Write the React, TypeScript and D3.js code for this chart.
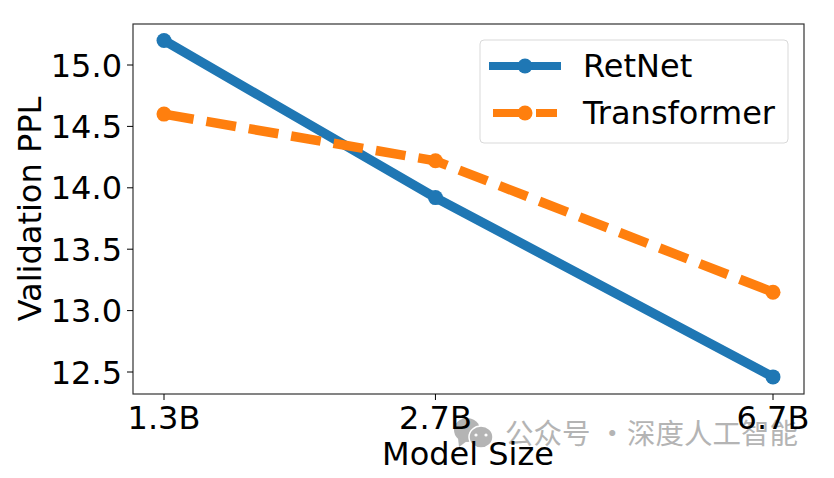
import React, { useRef, useEffect } from "react";
import * as d3 from "d3";

const modelSizes = [1.3, 2.7, 6.7];
const sizeLabels = ["1.3B", "2.7B", "6.7B"];
const retNet = [15.2, 13.92, 12.46];
const transformer = [14.6, 14.22, 13.15];
const yTicks = [12.5, 13.0, 13.5, 14.0, 14.5, 15.0];

const seriesNames = ["RetNet", "Transformer"];
const seriesColors = ["#1f77b4", "#ff7f0e"];

const FONT = "'DejaVu Sans', sans-serif";
const FONT_SIZE = "32px";
const MARK_GRAY = "#b4b4b4";

const App = () => {
  const svgRef = useRef<SVGSVGElement>(null);

  useEffect(() => {
    const svg = d3.select(svgRef.current);
    svg.selectAll("*").remove();

    const frame = { left: 133, right: 804, top: 24, bottom: 394 };

    // x axis is logarithmic, the points are not evenly spaced
    const x = d3.scaleLog().domain([1.3, 6.7]).range([164, 773]);
    const y = d3.scaleLinear().domain([12.5, 15]).range([372, 65]);

    const line = d3
      .line<number>()
      .x((d, i) => x(modelSizes[i]))
      .y((d) => y(d));

    // Watermark goes first, the axis labels sit on top of it
    const mark = svg.append("g");
    mark.append("ellipse").attr("cx", 467).attr("cy", 430).attr("rx", 13).attr("ry", 12).attr("fill", MARK_GRAY);
    mark.append("path").attr("d", "M458 438 L459 447 L467 441 Z").attr("fill", MARK_GRAY);
    mark
      .append("ellipse")
      .attr("cx", 481)
      .attr("cy", 437)
      .attr("rx", 12)
      .attr("ry", 11)
      .attr("fill", MARK_GRAY)
      .attr("stroke", "#fff")
      .attr("stroke-width", 1.5);
    [476, 486].forEach((cx) => {
      mark.append("circle").attr("cx", cx).attr("cy", 435).attr("r", 1.6).attr("fill", "#fff");
    });
    [
      { x: 505, label: "公众号" },
      { x: 598, label: "·" },
      { x: 627, label: "深度人工智能" },
    ].forEach((t) => {
      mark
        .append("text")
        .attr("x", t.x)
        .attr("y", 444)
        .attr("fill", MARK_GRAY)
        .style("font-family", "'Noto Sans CJK SC', sans-serif")
        .style("font-size", "28.5px")
        .text(t.label);
    });

    // Series
    [retNet, transformer].forEach((values, s) => {
      svg
        .append("path")
        .attr("d", line(values))
        .attr("fill", "none")
        .attr("stroke", seriesColors[s])
        .attr("stroke-width", 9.5)
        .attr("stroke-dasharray", s === 1 ? "30 13" : null);

      svg
        .selectAll(null)
        .data(values)
        .enter()
        .append("circle")
        .attr("cx", (d, i) => x(modelSizes[i]))
        .attr("cy", (d) => y(d))
        .attr("r", 7.5)
        .attr("fill", seriesColors[s]);
    });

    // Frame
    svg
      .append("rect")
      .attr("x", frame.left)
      .attr("y", frame.top)
      .attr("width", frame.right - frame.left)
      .attr("height", frame.bottom - frame.top)
      .attr("fill", "none")
      .attr("stroke", "#333")
      .attr("stroke-width", 1.2);

    // Y axis
    yTicks.forEach((t) => {
      svg
        .append("line")
        .attr("x1", frame.left - 6)
        .attr("x2", frame.left)
        .attr("y1", y(t))
        .attr("y2", y(t))
        .attr("stroke", "#000")
        .attr("stroke-width", 1);
      svg
        .append("text")
        .attr("x", frame.left - 11)
        .attr("y", y(t))
        .attr("dy", "0.36em")
        .attr("text-anchor", "end")
        .style("font-family", FONT)
        .style("font-size", FONT_SIZE)
        .text(t.toFixed(1));
    });

    // X axis
    modelSizes.forEach((m, i) => {
      svg
        .append("line")
        .attr("x1", x(m))
        .attr("x2", x(m))
        .attr("y1", frame.bottom)
        .attr("y2", frame.bottom + 6)
        .attr("stroke", "#000")
        .attr("stroke-width", 1);
      svg
        .append("text")
        .attr("x", x(m))
        .attr("y", 429)
        .attr("text-anchor", "middle")
        .style("font-family", FONT)
        .style("font-size", FONT_SIZE)
        .text(sizeLabels[i]);
    });

    // Axis titles
    svg
      .append("text")
      .attr("x", 468)
      .attr("y", 465)
      .attr("text-anchor", "middle")
      .style("font-family", FONT)
      .style("font-size", FONT_SIZE)
      .text("Model Size");

    svg
      .append("text")
      .attr("transform", "translate(41,209) rotate(-90)")
      .attr("text-anchor", "middle")
      .style("font-family", FONT)
      .style("font-size", FONT_SIZE)
      .text("Validation PPL");

    // Legend
    const legend = svg.append("g");
    legend
      .append("rect")
      .attr("x", 480)
      .attr("y", 40)
      .attr("width", 308)
      .attr("height", 103)
      .attr("rx", 4)
      .attr("fill", "#fff")
      .attr("fill-opacity", 0.8)
      .attr("stroke", "#d9d9d9")
      .attr("stroke-width", 1);

    seriesNames.forEach((name, s) => {
      const ly = s === 0 ? 66 : 113;
      legend
        .append("line")
        .attr("x1", s === 0 ? 489 : 493)
        .attr("x2", s === 0 ? 561 : 557)
        .attr("y1", ly)
        .attr("y2", ly)
        .attr("stroke", seriesColors[s])
        .attr("stroke-width", 8)
        .attr("stroke-dasharray", s === 1 ? "30 13" : null);
      legend
        .append("circle")
        .attr("cx", 525)
        .attr("cy", ly)
        .attr("r", 7.5)
        .attr("fill", seriesColors[s]);
      legend
        .append("text")
        .attr("x", 583)
        .attr("y", ly + 11)
        .style("font-family", FONT)
        .style("font-size", FONT_SIZE)
        .text(name);
    });
  }, []);

  return (
    <svg
      ref={svgRef}
      width={834}
      height={478}
      style={{ position: "absolute", left: 0, top: 0, background: "#fff" }}
    />
  );
};

export default App;
